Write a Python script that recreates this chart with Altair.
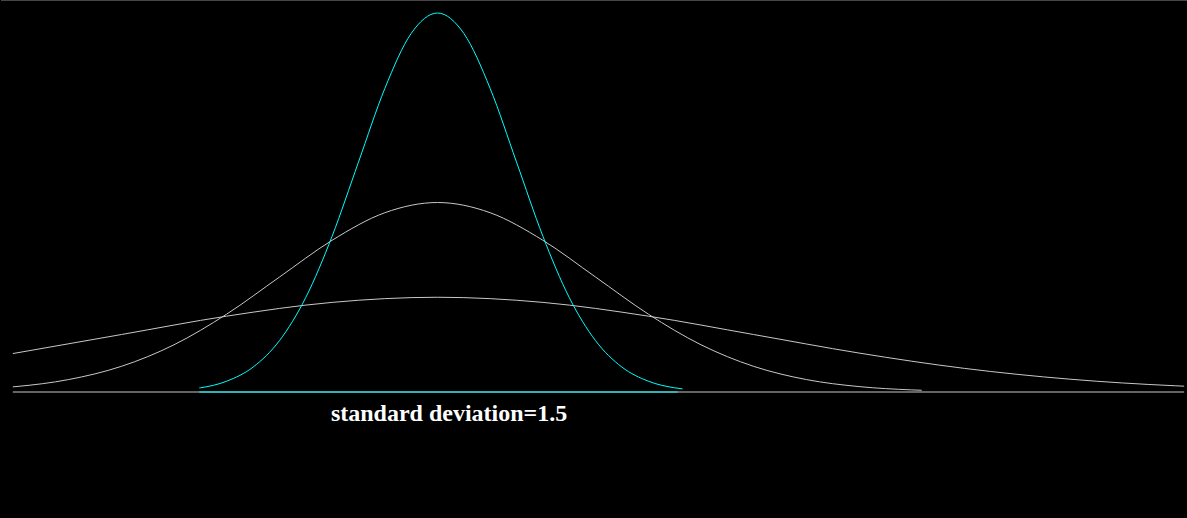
import altair as alt
import pandas as pd

# Narrow curve (standard deviation 1.5), cyan
cyan_x = [-4.52, -4.5, -4.0, -3.5, -3.0, -2.5, -2.0, -1.5, -1.0, -0.5, 0.0,
          0.5, 1.0, 1.5, 2.0, 2.5, 3.0, 3.5, 4.0, 4.5, 4.65]
cyan_y = [0.00284, 0.00295, 0.00760, 0.01748, 0.03600, 0.06632, 0.10934, 0.16131,
          0.21297, 0.25159, 0.26596, 0.25159, 0.21297, 0.16131, 0.10934, 0.06632,
          0.03600, 0.01748, 0.00760, 0.00295, 0.00218]

# Medium curve (standard deviation 3)
mid_x = [-8.06, -8, -7, -6, -5, -4, -3, -2, -1, 0, 1, 2, 3, 4, 5, 6, 7, 8, 9, 9.19]
mid_y = [0.00360, 0.00380, 0.00874, 0.01800, 0.03316, 0.05467, 0.08066, 0.10648,
         0.12580, 0.13298, 0.12580, 0.10648, 0.08066, 0.05467, 0.03316, 0.01800,
         0.00874, 0.00380, 0.00148, 0.00122]

# Wide curve (standard deviation 6)
wide_x = [-8.06, -6, -4, -2, 0, 2, 4, 6, 8, 10, 12, 14, 14.17]
wide_y = [0.02697, 0.04033, 0.05324, 0.06290, 0.06649, 0.06290, 0.05324, 0.04033,
          0.02733, 0.01658, 0.00900, 0.00437, 0.00409]

# Baselines
base_gray = [-8.06, 14.17]
base_cyan = [-4.52, 4.56]

label_text = ["standard deviation=1.5"]
label_x = [0.22]
label_y = [-0.0204]

GRAY = "#c8c8c8"
CYAN = "#00ffff"

rows = []
for name, xs, ys in (("wide", wide_x, wide_y), ("mid", mid_x, mid_y), ("cyan", cyan_x, cyan_y)):
    for i, (a, b) in enumerate(zip(xs, ys)):
        rows.append({"series": name, "x": a, "y": b, "o": i})
curves = pd.DataFrame(rows)

bases = pd.DataFrame([
    {"series": "gray", "x": base_gray[0], "x2": base_gray[1], "y": 0.0},
    {"series": "cyan", "x": base_cyan[0], "x2": base_cyan[1], "y": 0.0},
])
labels = pd.DataFrame({"t": label_text, "x": label_x, "y": label_y})

xs = alt.Scale(domain=[-8.284, 14.167], nice=False, zero=False)
ys = alt.Scale(domain=[-0.08842, 0.2751], nice=False, zero=False)
col = alt.Scale(domain=["wide", "mid", "cyan", "gray"], range=[GRAY, GRAY, CYAN, GRAY])

lines = alt.Chart(curves).mark_line(strokeWidth=1, interpolate="monotone").encode(
    x=alt.X("x:Q", scale=xs, axis=None),
    y=alt.Y("y:Q", scale=ys, axis=None),
    color=alt.Color("series:N", scale=col, legend=None),
    order="o:Q",
    detail="series:N",
)

base = alt.Chart(bases).mark_rule(strokeWidth=1).encode(
    x=alt.X("x:Q", scale=xs, axis=None),
    x2="x2:Q",
    y=alt.Y("y:Q", scale=ys, axis=None),
    color=alt.Color("series:N", scale=col, legend=None),
)

text = alt.Chart(labels).mark_text(
    font="Liberation Serif", fontWeight="bold", fontSize=24, color="white",
    align="center", baseline="alphabetic",
).encode(
    x=alt.X("x:Q", scale=xs, axis=None),
    y=alt.Y("y:Q", scale=ys, axis=None),
    text="t:N",
)

top = alt.Chart(labels).mark_rule(color="#464646", strokeWidth=1).encode(
    x=alt.value(0), x2=alt.value(1187), y=alt.value(0.5)
)

chart = alt.layer(base, lines, text, top).properties(
    width=1187, height=518,
    autosize=alt.AutoSizeParams(type="fit", contains="padding"),
    padding=0,
    background="black",
).configure_view(stroke=None)

chart.save("out.html", embed_options={
    "renderer": "svg", "actions": False,
    "defaultStyle": "html,body{margin:0;padding:0;background:#000;overflow:hidden}",
})
